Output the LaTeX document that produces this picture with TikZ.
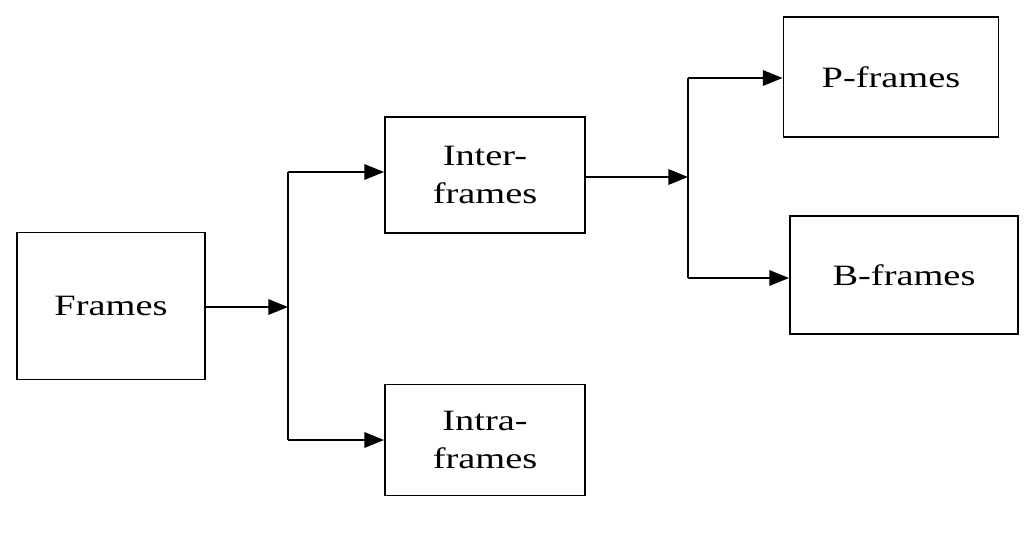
\documentclass[tikz,border=0pt]{standalone}
\usepackage{fontspec}
\setmainfont{Liberation Serif}[FakeStretch=1.3]
\usetikzlibrary{arrows.meta}
\begin{document}
\begin{tikzpicture}[x=0.025cm,y=-0.025cm,
  box/.style={draw,line width=1.3pt,inner sep=0,align=center,font=\fontsize{21}{27}\selectfont},
  con/.style={line width=1.3pt},
  arr/.style={con,-{Triangle[length=14pt,width=11pt]}}]
\useasboundingbox (0,0) rectangle (1028,547);
\node[box,minimum width=4.7cm,minimum height=3.675cm] (frames) at (111,306) {Frames};
\node[box,minimum width=5cm,minimum height=2.9cm] (inter) at (485,175) {Inter-\\frames};
\node[box,minimum width=5cm,minimum height=2.775cm] (intra) at (485,440) {Intra-\\frames};
\node[box,minimum width=5.375cm,minimum height=3cm] (p) at (891,77) {P-frames};
\node[box,minimum width=5.7cm,minimum height=2.95cm] (b) at (904,275) {B-frames};
\coordinate (j1) at (288,307);
\coordinate (j1t) at (288,172);
\coordinate (j1b) at (288,440);
\coordinate (j2) at (688,177);
\coordinate (j2t) at (688,78);
\coordinate (j2b) at (688,278);
\draw[arr] (frames.east |- j1) -- (j1);
\draw[con] (j1t) -- (j1b);
\draw[arr] (j1t) -- (inter.west |- j1t);
\draw[arr] (j1b) -- (intra.west |- j1b);
\draw[arr] (inter.east |- j2) -- (j2);
\draw[con] (j2t) -- (j2b);
\draw[arr] (j2t) -- (p.west |- j2t);
\draw[arr] (j2b) -- (b.west |- j2b);
\end{tikzpicture}
\end{document}
